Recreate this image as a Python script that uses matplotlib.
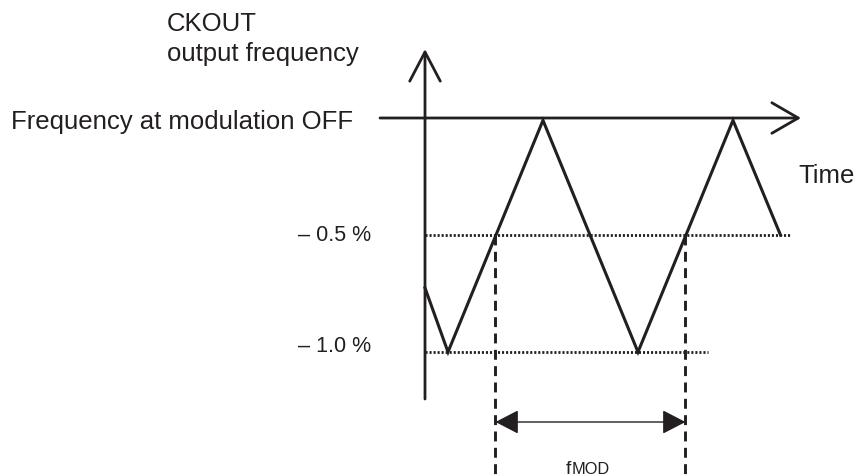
import matplotlib
matplotlib.use("Agg")
import matplotlib.pyplot as plt

# ---- data (time in modulation half-periods, frequency deviation in %) ----
wave_time = [0.0, 0.242, 1.242, 2.242, 3.242, 3.742]
wave_freq = [-0.726, -1.0, -0.01, -1.0, -0.01, -0.5]
level_values = [-0.5, -1.0]
level_labels = ["\u2013 0.5 %", "\u2013 1.0 %"]
level_ends = [3.84, 2.98]
fmod_times = [0.742, 2.742]

INK = "#231f20"
W, H = 856, 477
X0, KX = 425, 95      # x_px = X0 + KX * t
Y0, KY = 119, 234     # y_px = Y0 - KY * f
plt.rcParams['font.family'] = ['Liberation Sans', 'DejaVu Sans']

fig = plt.figure(figsize=(W / 100, H / 100), dpi=100)
ax = fig.add_axes([0, 0, 1, 1])
ax.set_axis_off()
ax.set_xlim(-X0 / KX, (W - X0) / KX)
ax.set_ylim(-(H - Y0) / KY, Y0 / KY)

def px(x, y):
    return x / W, 1 - y / H

# axes arrows
ax.annotate("", xy=(0, (Y0 - 50) / KY), xytext=(0, -(400 - Y0) / KY),
            arrowprops=dict(arrowstyle="->,head_length=2.1,head_width=1.1",
                            mutation_scale=10, lw=2.0, color=INK,
                            shrinkA=0, shrinkB=0))
ax.annotate("", xy=((801 - X0) / KX, 0), xytext=((380 - X0) / KX, 0),
            arrowprops=dict(arrowstyle="->,head_length=1.9,head_width=1.1",
                            mutation_scale=10, lw=2.0, color=INK,
                            shrinkA=0, shrinkB=0))

# level lines
for v, end in zip(level_values, level_ends):
    ax.plot([0, end], [v, v], color=INK, lw=2.0, dashes=(0.75, 0.7),
            dash_capstyle="butt")

# fMOD dashed verticals
for t in fmod_times:
    ax.plot([t, t], [-0.5, -1.6], color=INK, lw=2.1, dashes=(3.4, 2.2),
            dash_capstyle="butt")

# triangle wave
ax.plot(wave_time, wave_freq, color=INK, lw=2.2, solid_joinstyle="miter")

# double arrow
ax.annotate("", xy=(fmod_times[0], -(423 - Y0) / KY),
            xytext=(fmod_times[1], -(423 - Y0) / KY),
            arrowprops=dict(arrowstyle="<|-|>,head_length=1.45,head_width=0.75",
                            mutation_scale=10, lw=1.0, color=INK,
                            shrinkA=0, shrinkB=0))

# texts
BIG = 18.5
ax.text(*px(167, 31), "CKOUT", transform=fig.transFigure, fontsize=BIG,
        color=INK, ha="left", va="baseline")
ax.text(*px(167, 61), "output frequency", transform=fig.transFigure, fontsize=BIG,
        color=INK, ha="left", va="baseline")
ax.text(*px(353, 129), "Frequency at modulation OFF", transform=fig.transFigure,
        fontsize=BIG, color=INK, ha="right", va="baseline")
ax.text(*px(798, 183), "Time", transform=fig.transFigure, fontsize=BIG,
        color=INK, ha="left", va="baseline")
for v, lab, bl in zip(level_values, level_labels, [241, 352]):
    ax.text(*px(371, bl), lab, transform=fig.transFigure, fontsize=15.5,
            color=INK, ha="right", va="baseline")
ax.text(*px(566, 474), "f", transform=fig.transFigure, fontsize=14,
        color=INK, ha="left", va="baseline")
ax.text(*px(572, 474), "MOD", transform=fig.transFigure, fontsize=11.8,
        color=INK, ha="left", va="baseline")

fig.savefig("out.png", dpi=100)
